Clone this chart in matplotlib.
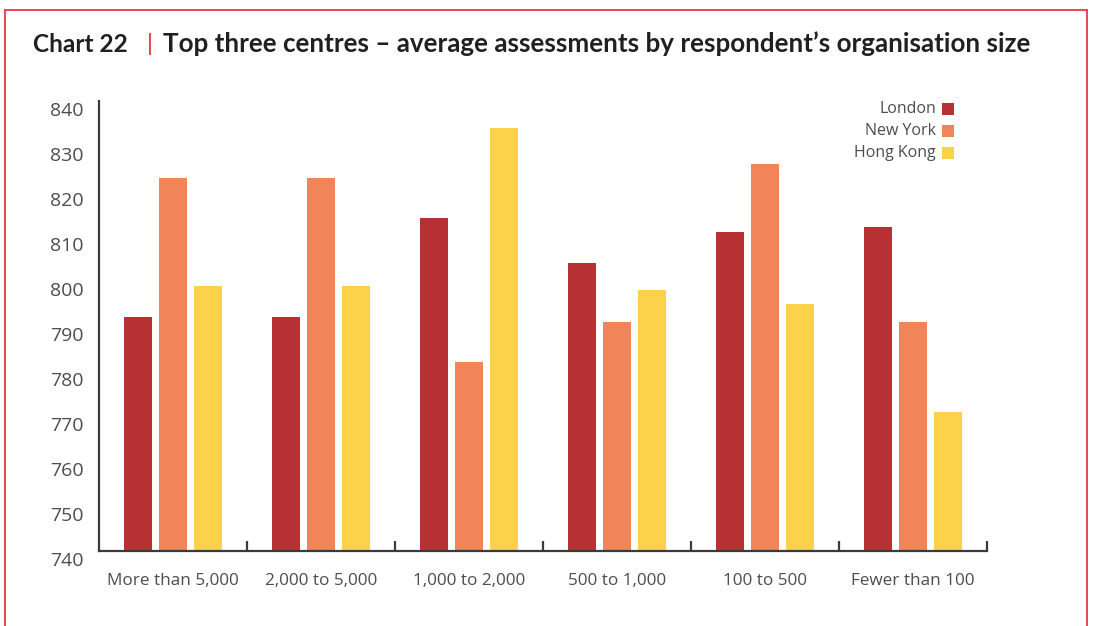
import matplotlib
matplotlib.use("Agg")
import matplotlib.pyplot as plt
import matplotlib.transforms as mtransforms
from matplotlib.patches import Rectangle
from matplotlib.lines import Line2D
import numpy as np

# Data
categories = ["More than 5,000", "2,000 to 5,000", "1,000 to 2,000",
              "500 to 1,000", "100 to 500", "Fewer than 100"]
series_names = ["London", "New York", "Hong Kong"]
london = [792, 792, 814, 804, 811, 812]
new_york = [823, 823, 782, 791, 826, 791]
hong_kong = [799, 799, 834, 798, 795, 771]
y_ticks = [740, 750, 760, 770, 780, 790, 800, 810, 820, 830, 840]

colors = ["#b73134", "#f28459", "#fbd24a"]
text_gray = "#4d4d4d"
axis_dark = "#3a3a3a"
frame_red = "#e8474c"
body_font = ["Open Sans", "DejaVu Sans"]
title_font = ["Lato", "DejaVu Sans"]

W, H = 1093, 626
fig = plt.figure(figsize=(W / 100, H / 100), dpi=100)
renderer = fig.canvas.get_renderer()

# Red page frame (open at the bottom)
for xs, ys in [([5, 5], [626, 10]), ([1087, 1087], [626, 10]), ([5, 1087], [10, 10])]:
    fig.add_artist(Line2D([v / W for v in xs], [1 - v / H for v in ys],
                          color=frame_red, lw=1.4, transform=fig.transFigure))


def fitted_text(x0, x1, y, s, **kw):
    """Place left-aligned text and scale its size so it spans x0..x1 pixels."""
    t = fig.text(x0 / W, y, s, ha="left", va="center", **kw)
    w = t.get_window_extent(renderer).width
    t.set_fontsize(t.get_fontsize() * (x1 - x0) / w)
    return t


# Title
ty = 1 - 44 / H
fitted_text(33, 128, ty, "Chart 22", fontsize=17, fontweight="bold",
            color="#231f20", family=title_font)
fig.text(150 / W, ty, "|", fontsize=17, color="#e4232b", family=title_font,
         va="center", ha="center")
fitted_text(163, 1030, ty,
            "Top three centres \u2013 average assessments by respondent\u2019s organisation size",
            fontsize=17, fontweight="bold", color="#231f20", family=title_font)

# Axes
left, right, top, bottom = 99, 987, 101, 551
ax = fig.add_axes([left / W, 1 - bottom / H, (right - left) / W, (bottom - top) / H])

x = np.arange(len(categories))
bw = 28 / 148
off = 35 / 148
for i, (vals, c) in enumerate(zip([london, new_york, hong_kong], colors)):
    ax.bar(x + (i - 1) * off, np.array(vals) - 740, bottom=740, width=bw,
           color=c, linewidth=0, zorder=2)

ax.set_xlim(-0.5, len(categories) - 0.5)
ax.set_ylim(740, 840)

for s in ["top", "right"]:
    ax.spines[s].set_visible(False)
for s in ["left", "bottom"]:
    ax.spines[s].set_color(axis_dark)
    ax.spines[s].set_linewidth(1.6)

# X: boundary ticks pointing up, category labels at the centres
ax.set_xticks(np.arange(0.5, len(categories), 1.0))
ax.set_xticklabels([])
ax.tick_params(axis="x", which="major", direction="in", length=7, width=1.6,
               color=axis_dark)
ax.set_xticks(x, minor=True)
ax.set_xticklabels(categories, minor=True, fontsize=12.3, color=text_gray,
                   family=body_font)
ax.tick_params(axis="x", which="minor", length=0, pad=16)

# Y: no tick marks, labels set slightly below their values
ax.set_yticks(y_ticks)
ax.set_yticklabels([str(v) for v in y_ticks], fontsize=14, color=text_gray,
                   family=body_font)
ax.tick_params(axis="y", length=0, pad=11)
shift = mtransforms.ScaledTranslation(0, -8 / 100, fig.dpi_scale_trans)
for lab in ax.get_yticklabels():
    lab.set_transform(lab.get_transform() + shift)

# Legend: right-aligned names with square swatches on the right
for i, (name, c) in enumerate(zip(series_names, colors)):
    yc = 1 - (109 + 22 * i) / H
    fig.text(936 / W, yc, name, fontsize=11.5, color=text_gray,
             family=body_font, ha="right", va="center")
    fig.add_artist(Rectangle((942 / W, yc - 5.5 / H), 11.5 / W, 11.5 / H,
                             transform=fig.transFigure, facecolor=c, edgecolor="none"))

fig.savefig("out.png", dpi=100)
